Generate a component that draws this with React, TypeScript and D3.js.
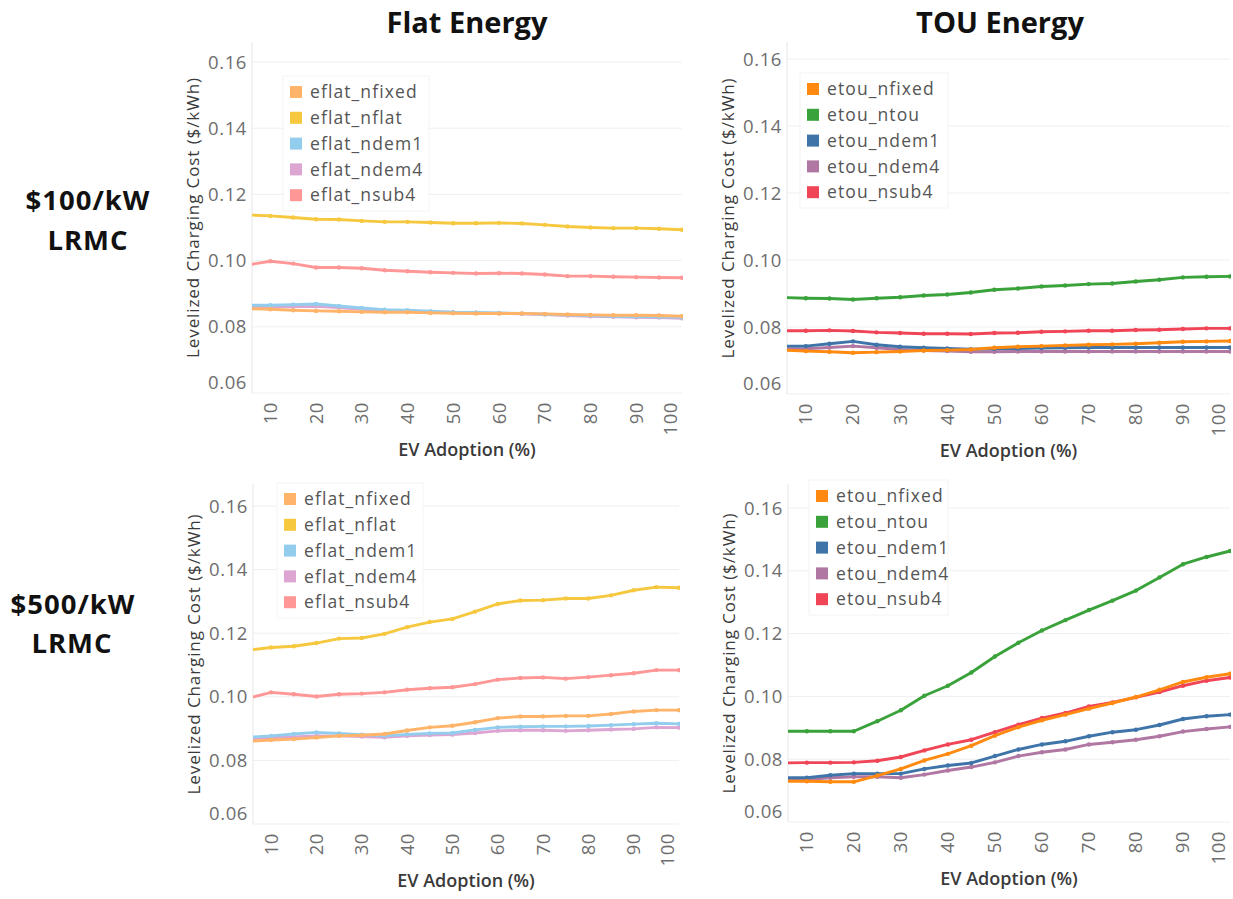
import * as d3 from 'd3';

// EV adoption (%) sampled every 5 points; x axis starts a little past 5
const X_VALUES = [5, 10, 15, 20, 25, 30, 35, 40, 45, 50, 55, 60, 65, 70, 75, 80, 85, 90, 95, 100];
const X_TICKS = [10, 20, 30, 40, 50, 60, 70, 80, 90, 100];
const Y_TICKS = [0.06, 0.08, 0.1, 0.12, 0.14, 0.16];

const FLAT_NAMES = ['eflat_nfixed', 'eflat_nflat', 'eflat_ndem1', 'eflat_ndem4', 'eflat_nsub4'];
const TOU_NAMES = ['etou_nfixed', 'etou_ntou', 'etou_ndem1', 'etou_ndem4', 'etou_nsub4'];
const FLAT_COLORS = ['#ffb46a', '#f6c83f', '#93cdee', '#dca5d2', '#ff9797'];
const TOU_COLORS = ['#ff8a0f', '#3aa23a', '#3f74a9', '#b077a3', '#f04556'];

// $100/kW LRMC, flat energy
const flat100Nfixed = [0.0855, 0.0853, 0.085, 0.0848, 0.0847, 0.0845, 0.0844, 0.0844, 0.0842, 0.0841, 0.084, 0.084, 0.084, 0.0839, 0.0837, 0.0836, 0.0835, 0.0835, 0.0834, 0.0832];
const flat100Nflat = [0.1138, 0.1135, 0.113, 0.1125, 0.1124, 0.112, 0.1117, 0.1117, 0.1115, 0.1113, 0.1113, 0.1114, 0.1112, 0.1108, 0.1103, 0.11, 0.1098, 0.1098, 0.1096, 0.1093];
const flat100Ndem1 = [0.0865, 0.0865, 0.0867, 0.0869, 0.0863, 0.0857, 0.0852, 0.085, 0.0847, 0.0844, 0.0843, 0.0842, 0.084, 0.0838, 0.0836, 0.0834, 0.0832, 0.0831, 0.083, 0.0829];
const flat100Ndem4 = [0.086, 0.086, 0.0861, 0.0862, 0.0858, 0.0853, 0.0849, 0.0847, 0.0845, 0.0843, 0.0842, 0.0841, 0.0839, 0.0837, 0.0834, 0.0832, 0.083, 0.0829, 0.0828, 0.0826];
const flat100Nsub4 = [0.0987, 0.0998, 0.0991, 0.0979, 0.0979, 0.0977, 0.0971, 0.0968, 0.0965, 0.0963, 0.0961, 0.0962, 0.0961, 0.0958, 0.0953, 0.0953, 0.0951, 0.095, 0.0949, 0.0948];

// $100/kW LRMC, TOU energy
const tou100Nfixed = [0.0731, 0.0728, 0.0726, 0.0723, 0.0725, 0.0727, 0.073, 0.0731, 0.0733, 0.0738, 0.0741, 0.0743, 0.0745, 0.0747, 0.0748, 0.075, 0.0753, 0.0756, 0.0757, 0.0758];
const tou100Ntou = [0.0888, 0.0886, 0.0885, 0.0882, 0.0886, 0.0889, 0.0894, 0.0897, 0.0903, 0.0911, 0.0915, 0.0921, 0.0924, 0.0928, 0.093, 0.0936, 0.0941, 0.0948, 0.095, 0.0951];
const tou100Ndem1 = [0.0743, 0.0743, 0.075, 0.0757, 0.0747, 0.0741, 0.0738, 0.0736, 0.0734, 0.0735, 0.0736, 0.0737, 0.0738, 0.0739, 0.0739, 0.0739, 0.0739, 0.0739, 0.0739, 0.0739];
const tou100Ndem4 = [0.0735, 0.0735, 0.0739, 0.0743, 0.0738, 0.0733, 0.073, 0.0728, 0.0726, 0.0726, 0.0727, 0.0727, 0.0727, 0.0727, 0.0727, 0.0727, 0.0727, 0.0727, 0.0727, 0.0727];
const tou100Nsub4 = [0.0789, 0.0789, 0.079, 0.0788, 0.0784, 0.0782, 0.078, 0.078, 0.0779, 0.0782, 0.0783, 0.0786, 0.0787, 0.0789, 0.0789, 0.0791, 0.0792, 0.0794, 0.0796, 0.0796];

// $500/kW LRMC, flat energy
const flat500Nfixed = [0.086, 0.0864, 0.0867, 0.0872, 0.0877, 0.0879, 0.0883, 0.0894, 0.0904, 0.0909, 0.092, 0.0933, 0.0938, 0.0938, 0.094, 0.094, 0.0946, 0.0954, 0.0958, 0.0958];
const flat500Nflat = [0.1147, 0.1155, 0.1159, 0.1169, 0.1183, 0.1185, 0.1198, 0.1219, 0.1235, 0.1245, 0.1268, 0.1292, 0.1303, 0.1304, 0.1309, 0.1309, 0.1319, 0.1335, 0.1345, 0.1343];
const flat500Ndem1 = [0.0873, 0.0877, 0.0883, 0.0888, 0.0885, 0.0881, 0.0877, 0.0882, 0.0885, 0.0886, 0.0896, 0.0904, 0.0906, 0.0907, 0.0907, 0.0908, 0.0911, 0.0914, 0.0917, 0.0915];
const flat500Ndem4 = [0.0868, 0.0871, 0.0874, 0.0877, 0.0877, 0.0875, 0.0873, 0.0877, 0.088, 0.0881, 0.0886, 0.0893, 0.0895, 0.0895, 0.0893, 0.0895, 0.0897, 0.0899, 0.0904, 0.0903];
const flat500Nsub4 = [0.0996, 0.1014, 0.1008, 0.1001, 0.1008, 0.101, 0.1014, 0.1022, 0.1027, 0.103, 0.104, 0.1054, 0.1059, 0.1061, 0.1057, 0.1062, 0.1068, 0.1074, 0.1084, 0.1084];

// $500/kW LRMC, TOU energy
const tou500Nfixed = [0.073, 0.073, 0.0728, 0.0728, 0.0748, 0.0769, 0.0796, 0.0817, 0.0843, 0.0875, 0.0902, 0.0924, 0.0942, 0.0961, 0.0979, 0.0998, 0.1021, 0.1046, 0.1061, 0.1072];
const tou500Ntou = [0.0889, 0.0889, 0.0889, 0.0889, 0.0921, 0.0956, 0.1002, 0.1034, 0.1076, 0.1127, 0.1171, 0.121, 0.1243, 0.1275, 0.1305, 0.1337, 0.1379, 0.1421, 0.1444, 0.1463];
const tou500Ndem1 = [0.0741, 0.0741, 0.0749, 0.0754, 0.0754, 0.0754, 0.0769, 0.078, 0.0788, 0.081, 0.0831, 0.0847, 0.0857, 0.0873, 0.0886, 0.0894, 0.0909, 0.0928, 0.0937, 0.0942];
const tou500Ndem4 = [0.0735, 0.0735, 0.0741, 0.0744, 0.0744, 0.0741, 0.0751, 0.0764, 0.0775, 0.079, 0.081, 0.0822, 0.0831, 0.0847, 0.0854, 0.0862, 0.0873, 0.0888, 0.0896, 0.0903];
const tou500Nsub4 = [0.0788, 0.0789, 0.0789, 0.079, 0.0795, 0.0807, 0.0828, 0.0847, 0.0862, 0.0886, 0.091, 0.0931, 0.0947, 0.0968, 0.0981, 0.0997, 0.1014, 0.1034, 0.105, 0.106];

const FONT = '"Open Sans", "DejaVu Sans", sans-serif';
// series are drawn back to front in this order (indexes into the legend order)
const DRAW_ORDER = [3, 2, 4, 1, 0];

interface Geo {
    left: number;
    right: number;
    top: number;
    bottom: number;
    g16: number; // pixel row of the 0.16 gridline
    legX: number;
    legY: number;
    legRight: number;
}

function Panel({ id, geo, names, colors, series }: { id: string; geo: Geo; names: string[]; colors: string[]; series: number[][] }) {
    const x = d3.scaleLinear().domain([6, 100]).range([geo.left, geo.right]);
    const y = d3.scaleLinear().domain([0.06, 0.16]).range([geo.bottom, geo.g16]);
    const line = d3
        .line<number>()
        .x((_, i) => x(X_VALUES[i]))
        .y((d) => y(d));

    const midX = (geo.left + geo.right) / 2;
    const midY = (geo.top + geo.bottom) / 2;
    const rowGap = 25.8;

    return (
        <g>
            <defs>
                <clipPath id={id}>
                    <rect x={geo.left} y={geo.top} width={geo.right - geo.left + 1} height={geo.bottom - geo.top} />
                </clipPath>
            </defs>

            {/* gridlines */}
            {Y_TICKS.map((t) => (
                <line key={t} x1={geo.left} x2={geo.right} y1={y(t)} y2={y(t)} stroke="#efefef" strokeWidth={1} />
            ))}
            <line x1={geo.left} x2={geo.left} y1={geo.top} y2={geo.bottom} stroke="#e6e6e6" strokeWidth={1} />

            {/* y tick labels */}
            {Y_TICKS.map((t, i) => (
                <text
                    key={t}
                    x={geo.left - 5}
                    y={y(t) - (i === 0 ? 11 : 0)}
                    dy="0.36em"
                    textAnchor="end"
                    fontFamily={FONT}
                    fontSize={18.5}
                    letterSpacing={0.6}
                    fill="#6e6e6e"
                >
                    {t.toFixed(2)}
                </text>
            ))}

            {/* x tick labels, rotated */}
            {X_TICKS.map((t) => {
                const px = Math.min(x(t), geo.right - 12);
                return (
                    <text
                        key={t}
                        transform={`translate(${px + 6.5}, ${geo.bottom + 9}) rotate(-90)`}
                        textAnchor="end"
                        fontFamily={FONT}
                        fontSize={18.5}
                        letterSpacing={0.6}
                        fill="#6e6e6e"
                    >
                        {t}
                    </text>
                );
            })}

            {/* axis titles */}
            <text
                transform={`translate(${geo.left - 53}, ${midY}) rotate(-90)`}
                textAnchor="middle"
                fontFamily={FONT}
                fontSize={17}
                letterSpacing={0.9}
                fill="#3a3a3a"
            >
                Levelized Charging Cost ($/kWh)
            </text>
            <text x={midX} y={geo.bottom + 63} textAnchor="middle" fontFamily={FONT} fontSize={18} fontWeight={600} fill="#3a3a3a">
                EV Adoption (%)
            </text>

            {/* legend */}
            <rect
                x={geo.legX - 7}
                y={geo.legY - 16}
                width={geo.legRight - geo.legX + 7}
                height={rowGap * 5 + 6}
                fill="#ffffff"
                stroke="#f4f4f4"
            />
            {names.map((n, i) => (
                <g key={n}>
                    <rect x={geo.legX} y={geo.legY + i * rowGap - 6} width={12} height={12} fill={colors[i]} />
                    <text
                        x={geo.legX + 20}
                        y={geo.legY + i * rowGap}
                        dy="0.35em"
                        fontFamily={FONT}
                        fontSize={17.5}
                        letterSpacing={1.1}
                        fill="#555555"
                    >
                        {n}
                    </text>
                </g>
            ))}

            {/* series */}
            <g clipPath={`url(#${id})`}>
                {DRAW_ORDER.map((k) => (
                    <g key={names[k]}>
                        <path d={line(series[k]) ?? ''} fill="none" stroke={colors[k]} strokeWidth={2.9} strokeLinejoin="round" />
                        {series[k].map((v, i) => (
                            <circle key={i} cx={x(X_VALUES[i])} cy={y(v)} r={2.2} fill={colors[k]} />
                        ))}
                    </g>
                ))}
            </g>
        </g>
    );
}

const GEO_TL: Geo = { left: 252, right: 682, top: 42, bottom: 393, g16: 62, legX: 290, legY: 92, legRight: 429 };
const GEO_TR: Geo = { left: 787, right: 1230, top: 42, bottom: 394, g16: 59, legX: 807, legY: 89, legRight: 948 };
const GEO_BL: Geo = { left: 253, right: 679, top: 484, bottom: 824, g16: 506, legX: 284, legY: 499, legRight: 423 };
const GEO_BR: Geo = { left: 788, right: 1230, top: 484, bottom: 822, g16: 508, legX: 816, legY: 496, legRight: 948 };

export default function App() {
    const titleStyle = { fontFamily: FONT, fontWeight: 700 };
    return (
        <svg width={1233} height={899} style={{ position: 'absolute', left: 0, top: 0, background: '#fff' }}>
            <text x={467} y={33} textAnchor="middle" fontSize={29} fill="#111" {...titleStyle}>
                Flat Energy
            </text>
            <text x={1000} y={33} textAnchor="middle" fontSize={29} fill="#111" {...titleStyle}>
                TOU Energy
            </text>

            <text x={88} y={210} textAnchor="middle" fontSize={27.5} letterSpacing={1} fill="#111" {...titleStyle}>
                $100/kW
            </text>
            <text x={88} y={250} textAnchor="middle" fontSize={27.5} letterSpacing={1} fill="#111" {...titleStyle}>
                LRMC
            </text>
            <text x={73} y={614} textAnchor="middle" fontSize={27.5} letterSpacing={1} fill="#111" {...titleStyle}>
                $500/kW
            </text>
            <text x={72} y={653} textAnchor="middle" fontSize={27.5} letterSpacing={1} fill="#111" {...titleStyle}>
                LRMC
            </text>

            <Panel
                id="clip-tl"
                geo={GEO_TL}
                names={FLAT_NAMES}
                colors={FLAT_COLORS}
                series={[flat100Nfixed, flat100Nflat, flat100Ndem1, flat100Ndem4, flat100Nsub4]}
            />
            <Panel
                id="clip-tr"
                geo={GEO_TR}
                names={TOU_NAMES}
                colors={TOU_COLORS}
                series={[tou100Nfixed, tou100Ntou, tou100Ndem1, tou100Ndem4, tou100Nsub4]}
            />
            <Panel
                id="clip-bl"
                geo={GEO_BL}
                names={FLAT_NAMES}
                colors={FLAT_COLORS}
                series={[flat500Nfixed, flat500Nflat, flat500Ndem1, flat500Ndem4, flat500Nsub4]}
            />
            <Panel
                id="clip-br"
                geo={GEO_BR}
                names={TOU_NAMES}
                colors={TOU_COLORS}
                series={[tou500Nfixed, tou500Ntou, tou500Ndem1, tou500Ndem4, tou500Nsub4]}
            />
        </svg>
    );
}
